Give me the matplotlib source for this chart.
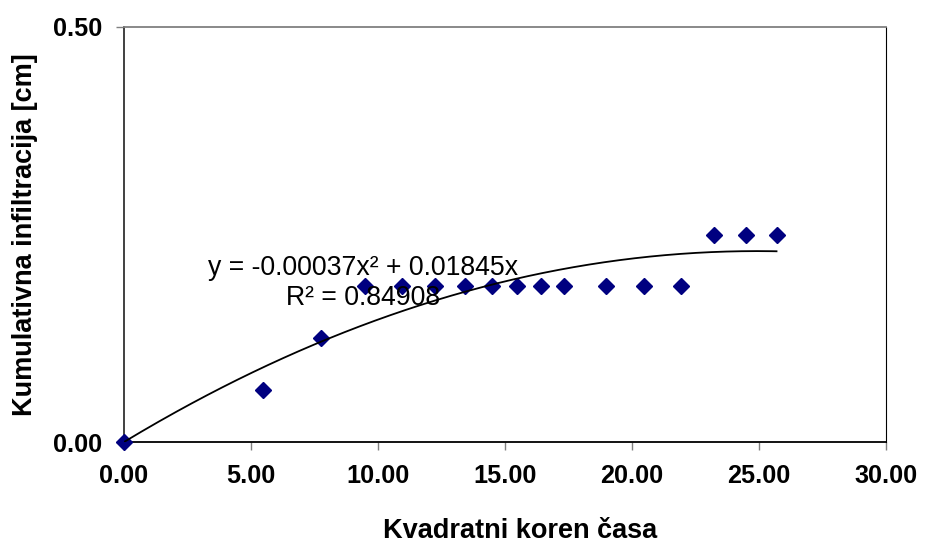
import numpy as np
import matplotlib
matplotlib.use("Agg")
import matplotlib.pyplot as plt

plt.rcParams['font.family'] = ['Liberation Sans', 'DejaVu Sans']

# Data (square root of time vs cumulative infiltration)
sqrt_time = [0.00, 5.48, 7.75, 9.49, 10.95, 12.25, 13.42, 14.49, 15.49,
             16.43, 17.32, 18.97, 20.49, 21.91, 23.24, 24.49, 25.69]
infiltration = [0.0, 0.0625, 0.125, 0.1875, 0.1875, 0.1875, 0.1875, 0.1875,
                0.1875, 0.1875, 0.1875, 0.1875, 0.1875, 0.1875, 0.25, 0.25, 0.25]
trend_a = -0.00037
trend_b = 0.01845
eq_text = "y = -0.00037x² + 0.01845x"
r2_text = "R² = 0.84908"
x_ticks = [0, 5, 10, 15, 20, 25, 30]
y_ticks = [0.0, 0.5]

W, H = 926, 544
fig = plt.figure(figsize=(W / 100, H / 100), dpi=100)
ax = fig.add_axes([124 / W, 1 - 442 / H, (886 - 124) / W, (442 - 27) / H])

ax.plot(sqrt_time, infiltration, linestyle='none', marker='D', markersize=8.3,
        color='#000080', markeredgecolor='#000080', zorder=3, clip_on=False)
xs = np.linspace(0, max(sqrt_time), 300)
ax.plot(xs, trend_a * xs ** 2 + trend_b * xs, color='black', lw=1.3, zorder=4)

ax.set_xlim(0, 30)
ax.set_ylim(0, 0.5)
ax.set_xticks(x_ticks)
ax.set_xticklabels([f"{v:.2f}" for v in x_ticks])
ax.set_yticks(y_ticks)
ax.set_yticklabels([f"{v:.2f}" for v in y_ticks])

for lab in ax.get_xticklabels() + ax.get_yticklabels():
    lab.set_fontweight('bold')
    lab.set_fontsize(18.2)
ax.tick_params(axis='both', direction='out', length=5.8, width=1.0,
               color='#808080', pad=10)

ax.spines['left'].set_color('#404040')
ax.spines['left'].set_linewidth(1.4)
ax.spines['bottom'].set_color('#000000')
ax.spines['bottom'].set_linewidth(1.3)
ax.spines['top'].set_color('#808080')
ax.spines['top'].set_linewidth(1.3)
ax.spines['right'].set_color('#000000')
ax.spines['right'].set_linewidth(0.8)

ax.set_xlabel("Kvadratni koren časa", fontsize=19.5, fontweight='bold')
ax.xaxis.set_label_coords((520 - 124) / 762, (442 - 538) / 415)
ax.xaxis.label.set_va('baseline')
ax.set_ylabel("Kumulativna infiltracija [cm]", fontsize=19.5, fontweight='bold')
ax.yaxis.set_label_coords((25 - 124) / 762, 0.5)
ax.yaxis.label.set_va('center')

fig.text(363 / W, 1 - 275 / H, eq_text, ha='center', va='baseline', fontsize=19.2)
fig.text(363 / W, 1 - 305 / H, r2_text, ha='center', va='baseline', fontsize=19.2)

fig.savefig("out.png", dpi=100)
